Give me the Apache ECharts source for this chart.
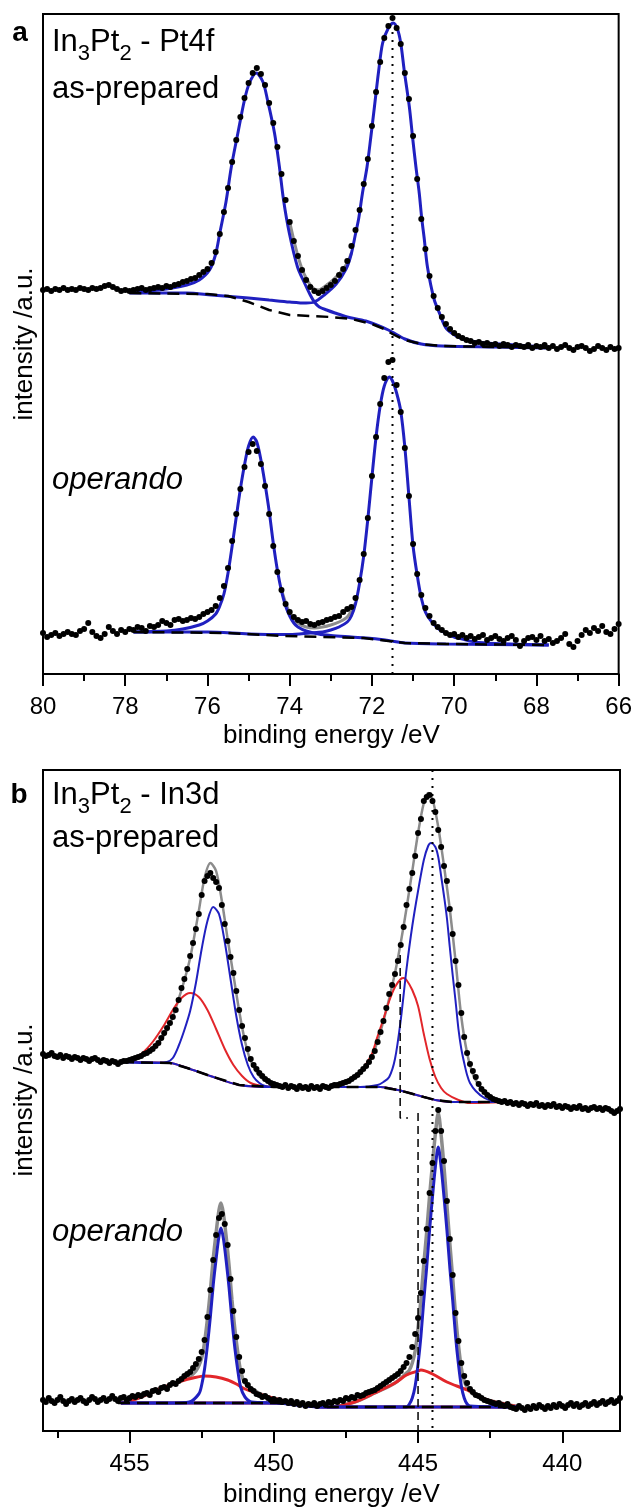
<!DOCTYPE html>
<html lang="en">
<head>
    <meta charset="UTF-8">
    <title>In3Pt2 XPS - Pt4f / In3d</title>
    <script src="https://cdn.jsdelivr.net/npm/echarts@6/dist/echarts.min.js"></script>
    <style>
        html, body { margin: 0; padding: 0; background: #fff; }
        #xps { width: 635px; height: 1510px; }
    </style>
</head>
<body>
<div id="xps"></div>
<script>
    // ---------- panel a: Pt4f, one point every 0.1 eV from 80.0 eV down to 66.0 eV
    const ptStart = 80.0, ptStep = 0.1
    const ptPrepared = [
        384, 385, 383, 385, 384, 386, 384, 385, 384, 386,
        385, 384, 386, 385, 386, 388, 389, 387, 385, 383,
        384, 383, 384, 385, 386, 384, 385, 386, 387, 386,
        388, 387, 389, 390, 392, 393, 395, 396, 399, 402,
        405, 411, 422, 440, 462, 486, 512, 534, 557, 576,
        591, 601, 606, 600, 589, 571, 551, 527, 500, 474,
        452, 433, 418, 404, 394, 387, 383, 381, 383, 386,
        389, 393, 399, 405, 413, 428, 444, 464, 490, 515,
        548, 582, 612, 636, 648, 656, 646, 630, 601, 575,
        538, 495, 455, 425, 398, 378, 366, 357, 350, 345,
        341, 338, 336, 334, 333, 331, 332, 330, 331, 329,
        330, 328, 330, 329, 327, 329, 328, 327, 329, 326,
        328, 327, 329, 326, 328, 325, 327, 329, 326, 324,
        327, 328, 326, 323, 325, 328, 326, 324, 327, 325,
        326
    ]
    const ptOperando = [
        41, 37, 39, 41, 38, 40, 42, 40, 39, 43,
        45, 51, 42, 38, 36, 40, 47, 43, 40, 44,
        42, 45, 44, 47, 46, 43, 48, 47, 49, 53,
        51, 49, 54, 55, 53, 54, 56, 55, 57, 60,
        62, 64, 68, 76, 88, 106, 133, 160, 185, 207,
        222, 230, 223, 210, 188, 160, 128, 102, 84, 70,
        62, 57, 54, 52, 53, 50, 49, 51, 52, 54,
        55, 57, 58, 62, 65, 67, 76, 94, 120, 156,
        198, 237, 270, 296, 312, 314, 289, 262, 226, 178,
        130, 100, 79, 66, 58, 51, 47, 44, 41, 39,
        40, 37, 39, 36, 38, 35, 37, 39, 34, 36,
        38, 35, 33, 36, 38, 34, 28, 33, 36, 37,
        34, 38, 33, 35, 31, 33, 36, 40, 30, 27,
        33, 39, 44, 41, 46, 43, 48, 42, 40, 45,
        50
    ]

    // fitted curves, [binding energy, intensity]
    const ptPrepBg = [[77.9, 381], [76.0, 380], [75.5, 378], [75.0, 372], [74.5, 364], [74.0, 359], [73.5, 358],
        [73.0, 357], [72.5, 355], [72.0, 350], [71.7, 345], [71.5, 340], [71.2, 334], [70.8, 330], [70.3, 328],
        [69.0, 327], [67.7, 326]]
    const ptPrepPeak1 = [[77.9, 382], [77.2, 384], [76.5, 389], [76.2, 394], [75.95, 404], [75.8, 420], [75.7, 441],
        [75.55, 472], [75.42, 507], [75.26, 541], [75.1, 574], [74.98, 591], [74.81, 601], [74.65, 592], [74.54, 574],
        [74.37, 541], [74.25, 507], [74.15, 474], [74.01, 441], [73.81, 407], [73.64, 391], [73.5, 379], [73.4, 372],
        [73.28, 367], [73.1, 364], [72.9, 361], [72.6, 357], [72.15, 353], [71.6, 344], [71.2, 335], [70.8, 330],
        [70.3, 328], [69.0, 327], [67.7, 326]]
    const ptPrepPeak2 = [[77.9, 381], [76.5, 381], [75.9, 379], [75.0, 376], [74.5, 374], [74.0, 372], [73.6, 371],
        [73.4, 372], [73.16, 379], [72.87, 390], [72.63, 405], [72.51, 419], [72.4, 440], [72.32, 456], [72.23, 481],
        [72.12, 507], [72.03, 536], [71.94, 567], [71.84, 602], [71.74, 631], [71.6, 646], [71.48, 651], [71.38, 645],
        [71.3, 631], [71.21, 602], [71.09, 567], [71.01, 536], [70.93, 507], [70.85, 481], [70.79, 456], [70.73, 436],
        [70.65, 407], [70.49, 375], [70.35, 360], [70.2, 346], [69.95, 338], [69.73, 334], [69.23, 331], [68.5, 329],
        [67.7, 327]]
    const ptPrepSum = [[74.0, 452], [73.9, 434], [73.8, 418], [73.7, 405], [73.6, 396], [73.5, 389], [73.4, 385],
        [73.3, 384], [73.2, 386], [73.1, 389], [73.0, 392], [72.9, 396], [72.8, 400], [72.7, 405], [72.6, 411], [72.5, 421]]

    const ptOperBg = [[77.8, 42], [75.5, 41], [74.15, 38], [72.2, 36], [71.6, 33], [71.2, 31], [70.2, 30], [67.7, 29]]
    const ptOperPeak1 = [[77.8, 42], [77.0, 43], [76.6, 45], [76.2, 49], [76.0, 53], [75.8, 60], [75.7, 68], [75.6, 80],
        [75.5, 101], [75.4, 128], [75.3, 157], [75.2, 185], [75.1, 209], [75.0, 228], [74.89, 237], [74.8, 232],
        [74.7, 214], [74.6, 190], [74.5, 163], [74.4, 131], [74.3, 104], [74.2, 83], [74.1, 68], [74.0, 58], [73.9, 51],
        [73.8, 47], [73.6, 43], [73.3, 40], [73.0, 38.5], [72.5, 37], [72.0, 35.5], [71.6, 33.5], [71.2, 31],
        [70.2, 30], [67.7, 29]]
    const ptOperPeak2 = [[77.8, 42], [76.0, 42], [75.0, 40], [74.0, 39.5], [73.5, 41], [73.2, 42], [73.0, 44],
        [72.8, 47], [72.6, 52], [72.5, 58], [72.4, 70], [72.3, 91], [72.2, 118], [72.1, 155], [72.0, 197], [71.9, 237],
        [71.8, 268], [71.7, 288], [71.58, 297], [71.5, 293], [71.4, 281], [71.3, 263], [71.2, 227], [71.1, 177],
        [71.0, 128], [70.9, 99], [70.8, 76], [70.7, 62], [70.6, 55], [70.5, 50], [70.4, 46], [70.3, 43], [70.2, 41],
        [70.0, 37], [69.9, 36], [69.5, 32], [69.0, 30.5], [67.7, 29]]
    const ptOperSum = [[74.2, 84], [74.0, 61], [73.8, 51], [73.6, 47], [73.4, 46], [73.2, 47], [73.0, 49], [72.8, 52],
        [72.6, 57], [72.4, 71]]
    const ptMarker = [[71.5, 642], [71.5, 0]]

    // ---------- panel b: In3d, one point every 0.1 eV from 458.0 eV down to 438.0 eV
    const inStart = 458.0, inStep = 0.1
    const inPrepared = [
        377, 375, 376, 378, 375, 374, 376, 373, 375, 374,
        372, 374, 373, 371, 373, 372, 370, 372, 373, 371,
        369, 371, 370, 368, 370, 369, 367, 369, 370, 370,
        371, 372, 373, 374, 375, 377, 378, 380, 382, 385,
        388, 393, 398, 403, 408, 414, 421, 431, 443, 452,
        462, 475, 488, 502, 517, 536, 550, 555, 558, 553,
        549, 543, 526, 507, 490, 474, 458, 440, 421, 405,
        393, 382, 372, 366, 362, 358, 355, 352, 350, 348,
        347, 346, 345, 344, 346, 343, 345, 344, 342, 345,
        343, 344, 342, 345, 343, 344, 342, 345, 344, 343,
        345, 346, 346, 347, 348, 349, 350, 352, 354, 356,
        359, 362, 365, 369, 374, 380, 389, 399, 410, 423,
        437, 446, 457, 470, 486, 504, 526, 542, 558, 575,
        598, 612, 630, 634, 636, 630, 619, 601, 584, 565,
        550, 522, 497, 470, 446, 418, 394, 378, 367, 360,
        354, 347, 342, 339, 336, 334, 332, 331, 330, 329,
        330, 328, 329, 327, 328, 326, 328, 327, 325, 327,
        326, 328, 325, 326, 324, 326, 325, 327, 324, 325,
        323, 325, 324, 322, 324, 323, 325, 322, 323, 321,
        323, 324, 322, 323, 321, 323, 322, 320, 318, 320,
        322
    ]
    const inOperando = [
        31, 29, 33, 30, 28, 31, 34, 30, 27, 30,
        32, 29, 31, 33, 30, 28, 31, 34, 32, 29,
        31, 33, 30, 32, 35, 32, 30, 33, 34, 31,
        33, 35, 34, 36, 35, 37, 38, 36, 40, 41,
        39, 43, 44, 42, 46, 48, 47, 50, 52, 55,
        57, 59, 63, 67, 72, 79, 91, 114, 141, 171,
        196, 213, 217, 207, 186, 152, 120, 94, 74, 60,
        50, 46, 42, 40, 37, 36, 34, 35, 33, 31,
        32, 30, 31, 29, 30, 28, 30, 27, 29, 26,
        28, 25, 27, 26, 28, 25, 27, 28, 26, 29,
        28, 30, 29, 31, 30, 33, 32, 34, 33, 36,
        35, 36, 38, 39, 40, 41, 43, 45, 47, 49,
        51, 53, 55, 57, 60, 64, 68, 74, 84, 97,
        113, 138, 170, 202, 238, 268, 300, 321, 300, 270,
        230, 192, 156, 118, 90, 68, 55, 48, 42, 39,
        36, 35, 33, 31, 30, 29, 28, 27, 28, 26,
        25, 27, 24, 23, 22, 25, 23, 21, 24, 22,
        25, 23, 26, 24, 22, 25, 23, 26, 24, 27,
        25, 23, 26, 28, 25, 27, 24, 26, 28, 25,
        27, 29, 26, 28, 30, 27, 29, 31, 28, 30,
        33
    ]

    const inPrepBg = [[455.26, 369], [453.6, 368], [453.0, 363], [452.2, 355], [451.2, 346], [450.0, 344],
        [446.3, 344], [445.7, 341], [445.3, 338], [444.8, 334], [444.4, 331], [443.8, 329], [442.0, 329]]
    const inPrepBlue1 = [[455.26, 369], [454.5, 368], [454.0, 368], [453.7, 369], [453.5, 373], [453.3, 385],
        [453.1, 401], [452.9, 420], [452.7, 448], [452.5, 482], [452.3, 510], [452.1, 524], [451.9, 517], [451.7, 489],
        [451.5, 452], [451.3, 415], [451.1, 386], [450.9, 366], [450.7, 354], [450.5, 348], [450.3, 345], [450.0, 344],
        [446.3, 344], [445.7, 341], [445.3, 338], [444.8, 334], [444.4, 331], [443.8, 329], [442.0, 329]]
    const inPrepRed1 = [[455.26, 369], [455.0, 371], [454.6, 377], [454.2, 389], [453.8, 406], [453.5, 421],
        [453.2, 433], [452.9, 438], [452.6, 434], [452.3, 421], [452.0, 402], [451.7, 382], [451.4, 366], [451.1, 355],
        [450.8, 348], [450.4, 345], [450.0, 344], [446.3, 344], [445.7, 341], [445.3, 338], [444.8, 334], [444.4, 331],
        [443.8, 329], [442.0, 329]]
    const inPrepBlue2 = [[455.26, 369], [453.6, 368], [453.0, 363], [452.2, 355], [451.2, 346], [450.0, 344],
        [447.0, 344], [446.4, 346], [446.2, 349], [446.0, 354], [445.8, 372], [445.6, 411], [445.4, 462], [445.2, 505],
        [445.0, 540], [444.8, 571], [444.65, 585], [444.55, 588], [444.4, 584], [444.3, 574], [444.2, 555], [444.1, 535],
        [444.0, 513], [443.9, 484], [443.8, 456], [443.7, 430], [443.6, 402], [443.5, 382], [443.4, 368], [443.3, 356],
        [443.2, 348], [443.0, 340], [442.7, 333], [442.4, 330], [442.0, 329]]
    const inPrepRed2 = [[455.26, 369], [453.6, 368], [453.0, 363], [452.2, 355], [451.2, 346], [450.0, 344],
        [448.2, 344], [447.8, 345], [447.4, 349], [447.0, 358], [446.8, 367], [446.6, 377], [446.4, 395], [446.2, 412],
        [446.0, 430], [445.8, 444], [445.6, 452], [445.5, 453], [445.4, 451], [445.2, 441], [445.0, 425], [444.8, 397],
        [444.6, 372], [444.4, 354], [444.2, 343], [444.0, 337], [443.6, 331], [443.2, 328], [442.0, 329]]
    const inPrepSum = [[455.26, 369], [454.6, 376], [454.0, 388], [453.6, 407], [453.2, 441], [452.9, 473],
        [452.6, 520], [452.4, 553], [452.2, 568], [452.0, 560], [451.8, 530], [451.6, 492], [451.4, 456], [451.2, 420],
        [451.0, 390], [450.8, 370], [450.5, 355], [450.2, 349], [450.0, 347], [449.5, 345], [448.5, 344], [448.0, 345],
        [447.5, 348], [447.0, 358], [446.6, 374], [446.2, 410], [445.8, 458], [445.5, 505], [445.2, 560], [445.0, 598],
        [444.8, 628], [444.65, 638], [444.5, 632], [444.3, 604], [444.1, 565], [443.9, 522], [443.7, 470], [443.5, 414],
        [443.3, 378], [443.1, 357], [442.85, 344], [442.5, 334], [442.0, 329]]

    const inOperBg = [[455.4, 28], [449.9, 28], [448.3, 24], [441.5, 24]]
    const inOperBlue1 = [[455.3, 28], [453.5, 28], [452.93, 29], [452.6, 37], [452.5, 46], [452.4, 62], [452.3, 86],
        [452.2, 114], [452.1, 146], [452.0, 172], [451.9, 195], [451.83, 203], [451.75, 193], [451.65, 170],
        [451.55, 143], [451.45, 111], [451.35, 83], [451.25, 61], [451.15, 44], [451.0, 34], [450.77, 29], [449.9, 28],
        [448.3, 24], [441.5, 24]]
    const inOperRed1 = [[455.3, 28], [455.0, 30], [454.6, 34], [454.2, 39], [453.9, 43], [453.5, 47], [453.2, 50],
        [452.8, 53], [452.4, 55], [452.0, 54], [451.6, 51], [451.3, 47], [451.0, 42], [450.6, 38], [450.3, 35],
        [449.9, 32], [449.6, 30], [449.0, 27], [448.5, 25], [448.0, 24], [441.5, 24]]
    const inOperBlue2 = [[455.3, 28], [449.9, 28], [448.3, 24], [445.4, 24], [445.3, 27], [445.2, 33], [445.1, 45],
        [445.0, 67], [444.9, 95], [444.8, 131], [444.7, 164], [444.6, 201], [444.5, 234], [444.4, 264], [444.3, 284],
        [444.2, 264], [444.1, 234], [444.0, 201], [443.9, 164], [443.8, 131], [443.7, 95], [443.6, 67], [443.5, 45],
        [443.4, 33], [443.3, 27], [443.2, 25], [441.5, 24]]
    const inOperRed2 = [[455.3, 28], [449.9, 28], [448.3, 24], [448.0, 24], [447.2, 29], [446.5, 38], [445.8, 48],
        [445.4, 56], [445.0, 60], [444.9, 61], [444.5, 57], [444.0, 49], [443.3, 41], [442.6, 31], [442.0, 27],
        [441.5, 24]]
    const inOperSum = [[455.3, 28], [454.6, 34], [454.0, 41], [453.5, 47], [453.0, 53], [452.7, 60], [452.5, 73],
        [452.4, 89], [452.3, 112], [452.2, 140], [452.1, 172], [452.0, 198], [451.9, 221], [451.83, 228], [451.75, 218],
        [451.65, 194], [451.55, 165], [451.45, 131], [451.35, 102], [451.25, 79], [451.15, 60], [451.0, 48],
        [450.7, 41], [450.3, 35], [449.8, 31], [449.0, 27], [448.0, 24], [447.2, 29], [446.5, 38], [445.8, 48],
        [445.4, 58], [445.3, 61], [445.2, 68], [445.1, 80], [445.0, 103], [444.9, 132], [444.8, 167], [444.7, 199],
        [444.6, 235], [444.5, 267], [444.4, 297], [444.3, 318], [444.2, 296], [444.1, 264], [444.0, 226], [443.9, 188],
        [443.8, 153], [443.7, 116], [443.6, 86], [443.5, 63], [443.4, 50], [443.3, 44], [443.1, 37], [442.6, 31],
        [442.0, 27], [441.5, 24]]
    const inMarker = [[444.5, 661], [444.5, 0]]
    const inShiftPrep = [[445.62, 476], [445.62, 313], [445.35, 313]]
    const inShiftOper = [[445.0, 318], [445.0, 0]]

    const inMajorTicks = [440, 445, 450, 455]
    const inMinorTicks = [442.5, 447.5, 452.5, 457.5]

    // ---------- helpers
    const font = "'Liberation Sans', Arial, sans-serif"
    const blue = '#2020c0'
    const red = '#e2262a'
    const gray = '#8c8c8c'

    function points(start, step, values) {
        return values.map((v, i) => [+(start - i * step).toFixed(2), v])
    }

    function curve(data, panel, color, width, z) {
        return {
            type: 'line', data: data, xAxisIndex: panel === 0 ? 0 : 1, yAxisIndex: panel,
            symbol: 'none', smooth: 0.3, silent: true, z: z || 2,
            lineStyle: {color: color, width: width}
        }
    }

    function dashed(data, panel, width, dash, z) {
        return {
            type: 'line', data: data, xAxisIndex: panel === 0 ? 0 : 1, yAxisIndex: panel,
            symbol: 'none', silent: true, z: z || 3,
            lineStyle: {color: '#000', width: width, type: dash}
        }
    }

    function dots(data, panel) {
        return {
            type: 'scatter', data: data, xAxisIndex: panel === 0 ? 0 : 1, yAxisIndex: panel,
            symbolSize: 6, silent: true, z: 5, itemStyle: {color: '#000', opacity: 1}
        }
    }

    const tickStyle = {color: '#000', width: 2}
    const labelStyle = {fontSize: 24, color: '#000', fontFamily: font, margin: 21}

    function txt(x, y, text, size, extra) {
        return {
            type: 'text', x: x, y: y, silent: true,
            style: Object.assign({
                text: text, fontSize: size, fontFamily: font, fill: '#000',
                align: 'left', textAlign: 'left', verticalAlign: 'middle', textVerticalAlign: 'middle'
            }, extra || {})
        }
    }

    function formula(y, tail) {
        return {
            type: 'text', x: 52, y: y, silent: true,
            style: {
                text: '{m|In}{s|3}{m|Pt}{s|2}{m| - ' + tail + '}',
                fontFamily: font, fontSize: 31, fill: '#000',
                align: 'left', textAlign: 'left', verticalAlign: 'top', textVerticalAlign: 'top',
                rich: {
                    m: {fontSize: 31, fontFamily: font, color: '#000', lineHeight: 31, verticalAlign: 'top'},
                    s: {fontSize: 22, fontFamily: font, color: '#000', lineHeight: 22, verticalAlign: 'top', padding: [16, 0, 0, 0]}
                }
            }
        }
    }

    let option = {
        animation: false,
        backgroundColor: '#fff',
        grid: [
            {left: 43, top: 14, width: 577, height: 660, show: true, borderColor: '#000', borderWidth: 2},
            {left: 43, top: 770, width: 577, height: 661, show: true, borderColor: '#000', borderWidth: 2}
        ],
        xAxis: [
            {
                gridIndex: 0, type: 'value', min: 66, max: 80, interval: 2, inverse: true, position: 'bottom',
                axisLine: {lineStyle: tickStyle},
                axisTick: {length: 12, lineStyle: tickStyle},
                minorTick: {show: true, splitNumber: 2, length: 7, lineStyle: tickStyle},
                splitLine: {show: false}, minorSplitLine: {show: false},
                axisLabel: labelStyle
            },
            {
                gridIndex: 1, type: 'value', min: 438, max: 458, inverse: true, position: 'bottom',
                axisLine: {lineStyle: tickStyle},
                axisTick: {length: 12, lineStyle: tickStyle, customValues: inMajorTicks},
                splitLine: {show: false},
                axisLabel: Object.assign({customValues: inMajorTicks}, labelStyle)
            },
            {
                gridIndex: 1, type: 'value', min: 438, max: 458, inverse: true, position: 'bottom',
                axisLine: {show: false},
                axisTick: {length: 7, lineStyle: tickStyle, customValues: inMinorTicks},
                splitLine: {show: false},
                axisLabel: {show: false}
            }
        ],
        yAxis: [
            {gridIndex: 0, type: 'value', min: 0, max: 660, show: false},
            {gridIndex: 1, type: 'value', min: 0, max: 661, show: false}
        ],
        graphic: [
            txt(20, 33, 'a', 28, {fontWeight: 'bold', align: 'center', textAlign: 'center'}),
            formula(26.8, 'Pt4f'),
            txt(52, 89.3, 'as-prepared', 31),
            txt(52, 480.3, 'operando', 31, {fontStyle: 'italic'}),
            txt(331.5, 736, 'binding energy /eV', 26, {align: 'center', textAlign: 'center'}),
            Object.assign(txt(25, 344, 'intensity /a.u.', 26, {align: 'center', textAlign: 'center'}), {rotation: Math.PI / 2}),

            txt(19, 795, 'b', 28, {fontWeight: 'bold', align: 'center', textAlign: 'center'}),
            formula(779.8, 'In3d'),
            txt(52, 838.3, 'as-prepared', 31),
            txt(52, 1232.3, 'operando', 31, {fontStyle: 'italic'}),
            txt(331.5, 1495, 'binding energy /eV', 26, {align: 'center', textAlign: 'center'}),
            Object.assign(txt(25, 1100, 'intensity /a.u.', 26, {align: 'center', textAlign: 'center'}), {rotation: Math.PI / 2})
        ],
        series: [
            // panel a
            curve(ptPrepSum, 0, gray, 3, 1),
            curve(ptOperSum, 0, gray, 3, 1),
            curve(ptPrepPeak1, 0, blue, 3),
            curve(ptPrepPeak2, 0, blue, 3),
            curve(ptOperPeak1, 0, blue, 3),
            curve(ptOperPeak2, 0, blue, 3),
            dashed(ptPrepBg, 0, 2.5, [12, 7]),
            dashed(ptOperBg, 0, 2.5, [12, 7]),
            dashed(ptMarker, 0, 2, [2, 6], 4),
            dots(points(ptStart, ptStep, ptPrepared), 0),
            dots(points(ptStart, ptStep, ptOperando), 0),

            // panel b
            curve(inPrepSum, 1, gray, 2.5, 1),
            curve(inOperSum, 1, gray, 3.5, 1),
            curve(inPrepRed1, 1, red, 2),
            curve(inPrepRed2, 1, red, 2),
            curve(inPrepBlue1, 1, blue, 2),
            curve(inPrepBlue2, 1, blue, 2),
            curve(inOperRed1, 1, red, 3),
            curve(inOperRed2, 1, red, 3),
            curve(inOperBlue1, 1, blue, 3),
            curve(inOperBlue2, 1, blue, 3),
            dashed(inPrepBg, 1, 2.5, [12, 7]),
            dashed(inOperBg, 1, 2.5, [12, 7]),
            dashed(inShiftPrep, 1, 1.5, [8, 5], 4),
            dashed(inShiftOper, 1, 1.5, [8, 5], 4),
            dashed(inMarker, 1, 2, [2, 6], 4),
            dots(points(inStart, inStep, inPrepared), 1),
            dots(points(inStart, inStep, inOperando), 1)
        ]
    }

    let chart = echarts.init(document.getElementById('xps'))
    chart.setOption(option)
</script>
</body>
</html>
